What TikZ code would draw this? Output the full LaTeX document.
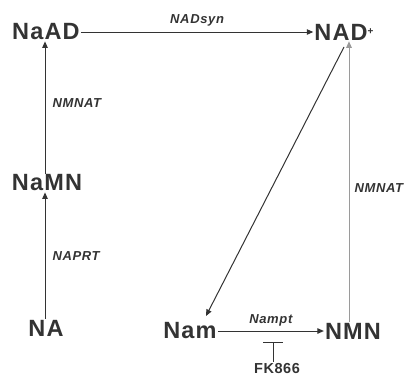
\documentclass[tikz,border=0pt]{standalone}
\usepackage{fontspec}
\setmainfont{Liberation Sans}
\usetikzlibrary{arrows.meta}
\definecolor{ink}{HTML}{333333}
\definecolor{pale}{HTML}{9A9A9A}
\begin{document}
\begin{tikzpicture}[x=1pt,y=-1pt,
  metab/.style={font=\fontsize{23.5}{26}\selectfont\bfseries\addfontfeature{LetterSpace=5}, text=ink, inner sep=1pt},
  enz/.style={font=\fontsize{13}{15}\selectfont\bfseries\itshape\addfontfeature{LetterSpace=5}, text=ink, inner sep=1pt},
  flow/.style={draw=ink, line width=1pt, -{Triangle[length=6.5pt,width=5.5pt]}},
  flowpale/.style={draw=pale, line width=1pt, -{Triangle[length=6.5pt,width=5.5pt]}}]
\useasboundingbox (0,0) rectangle (411,378);
% metabolites
\node[metab] (naad) at (46,32) {NaAD};
\node[metab] (nad) at (344,32) {NAD\raisebox{6pt}{\fontsize{10}{10}\selectfont +}};
\node[metab] (namn) at (47,183) {NaMN};
\node[metab] (na) at (46,328) {NA};
\node[metab] (nam) at (190,331) {Nam};
\node[metab] (nmn) at (353,331) {NMN};
% reactions
\draw[flow] (naad.east) -- node[enz, above=4pt] {NADsyn} (nad.west);
\draw[flow] (na.north -| 45,0) -- node[enz, right=6pt] {NAPRT} (namn.south -| 45,0);
\draw[flow] (namn.north -| 45,0) -- node[enz, right=6pt, yshift=4pt] {NMNAT} (naad.south -| 45,0);
\draw[flowpale] (nmn.north -| 349,0) -- node[enz, right=4pt, yshift=-7pt] {NMNAT} (nad.south -| 349,0);
\coordinate (dtop) at (344,47);
\coordinate (dbot) at (206,316);
\draw[flow] (dtop) -- (dbot);
\draw[flow] (nam.east) -- node[enz, above=3pt] (nampt) {Nampt} (nmn.west);
% inhibitor
\node[enz, font=\fontsize{14.5}{16}\selectfont\bfseries\addfontfeature{LetterSpace=4}] (fk) at (277,368) {FK866};
\coordinate (bar) at (273,342);
\draw[draw=ink, line width=1pt] (fk.north -| bar) -- (bar);
\draw[draw=ink, line width=1pt] ([xshift=-10pt]bar) -- ([xshift=10pt]bar);
\end{tikzpicture}
\end{document}
